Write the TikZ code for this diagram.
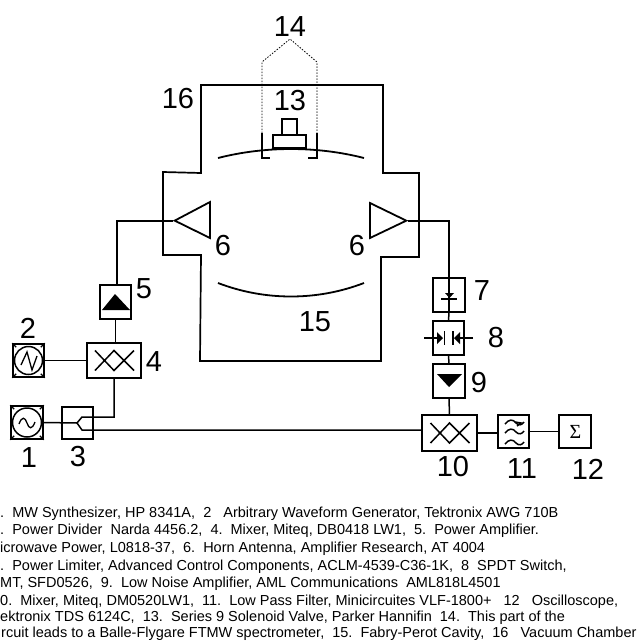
\documentclass[tikz,border=0pt]{standalone}
\usepackage{fontspec}
\setmainfont{Liberation Sans}
\newfontfamily\sigfont{Liberation Serif}
\usetikzlibrary{calc}
\newcommand{\mixsym}[1]{%
  \draw[sym] ($(#1.center)+(-19,10)$) -- ($(#1.center)+(0,-10)$) -- ($(#1.center)+(20,10)$)
        ($(#1.center)+(-19,-10)$) -- ($(#1.center)+(0,10)$) -- ($(#1.center)+(20,-10)$);}
\tikzset{
  wire/.style={line width=1.5pt,line join=miter},
  wall/.style={line width=1.7pt,line join=miter},
  sym/.style={line width=1.5pt},
  blockbox/.style={draw,line width=1.7pt,inner sep=0pt,minimum width=#1,minimum height=33pt},
  blockbox/.default=32pt,
  num/.style={font=\fontsize{29}{29}\selectfont,inner sep=0pt},
  captext/.style={font=\fontsize{14.5}{14.5}\selectfont,anchor=base west,inner sep=0pt},
  mirror/.style={line width=1.8pt},
  pathdot/.style={line width=0.8pt,dash pattern=on 1.5pt off 1.5pt},
}
\begin{document}
\begin{tikzpicture}[x=1pt,y=-1pt]
\useasboundingbox[fill=white] (0,0) rectangle (641,641);
% chamber
\draw[wall] (201,173) -- (201,85) -- (383,85) -- (383,173) -- (419,173) -- (419,257) -- (381,257) -- (381,361) -- (200,361) -- (201,255) -- (163,255) -- (163,172) -- cycle;
% mirrors
\draw[mirror] (218,158) .. controls (265,146) and (317,146) .. (364,158);
\draw[mirror] (218,283) .. controls (265,301) and (317,301) .. (364,283);
% valve
\draw[line width=1.5pt] (273,148) rectangle (306,135) (282,135) rectangle (297,119);
\draw[line width=1.5pt] (262,133) -- (262,158) -- (270,158) (317,133) -- (317,158) -- (308,158);
\draw[pathdot] (262,133) -- (262,62) -- (290,39) -- (317,62) -- (317,133);
% horns
\node[inner sep=0pt] (hornL) at (174,221) {};
\node[inner sep=0pt] (hornR) at (407,221) {};
\draw[line width=1.8pt,line join=miter] (hornL) -- (210,202) -- (210,238) -- cycle;
\draw[line width=1.8pt,line join=miter] (hornR) -- (370,203) -- (370,238) -- cycle;
% blocks
\node[blockbox=32pt,minimum height=33pt] (s1) at (27,422.5) {};
\node[blockbox=31pt,minimum height=33pt] (s2) at (28.5,360.5) {};
\node[blockbox=31pt,minimum height=32pt] (b3) at (77.5,423) {};
\node[blockbox=54pt,minimum height=35pt] (b4) at (114,360.5) {};
\node[blockbox=31pt,minimum height=34pt] (b5) at (115.5,302) {};
\node[blockbox=32pt,minimum height=34pt] (b7) at (449,295) {};
\node[blockbox=31pt,minimum height=34pt] (b8) at (448.5,338) {};
\node[blockbox=32pt,minimum height=34pt] (b9) at (449,381) {};
\node[blockbox=55pt,minimum height=36pt] (b10) at (449.5,433) {};
\node[blockbox=31pt,minimum height=33pt] (b11) at (513.5,431.5) {};
\node[blockbox=32pt,minimum height=33pt] (b12) at (575,431.5) {};
% source 1
\draw[line width=1.5pt] (s1.center) circle (14.5);
\draw[line width=1.3pt] (19,424) .. controls (22,416) and (25,417) .. (27,423) .. controls (29,429) and (32,430) .. (35,422);
\draw[line width=1.1pt] (s1.north west) -- ++(4,4) (s1.north east) -- ++(-4,4) (s1.south west) -- ++(4,-4) (s1.south east) -- ++(-4,-4);
% source 2
\draw[line width=1.5pt] (s2.center) circle (14);
\draw[line width=1.3pt] (21,365) -- (27,352) -- (32,370) -- (37,356);
\draw[line width=1.1pt] (s2.north west) -- ++(4,4) (s2.north east) -- ++(-4,4) (s2.south west) -- ++(4,-4) (s2.south east) -- ++(-4,-4);
% block 3 fork
\coordinate (fork) at (77,423);
\coordinate (forkU) at (82,417);
\coordinate (forkD) at (82,430);
\draw[wire] (s1.east) -- (fork) -- (forkU) -| (b4.south);
\draw[wire] (fork) -- (forkD) -- (b10.west |- forkD);
% mixers
\mixsym{b4}
\mixsym{b10}
% amp 5
\fill (115,294) -- (130,310) -- (102,310) -- cycle;
\draw[wire] (b5.south) -- (b5.south |- b4.north);
\draw[wire] (hornL) -- (117,221) -- (117,285);
\draw[wire] (s2.east) -- (b4.west);
% right chain
\draw[wire] (hornR) -- (449,221) -- (b7.north);
\draw[wire] (b7.north) -- (b7.south);
\draw[wire] (b7.south) -- (b8.north);
\draw[wire] (b8.south) -- (b9.north);
\draw[wire] (b9.south) -- (b10.north);
\fill (445,293) -- (454,293) -- (449.5,298) -- cycle;
\draw[sym] (441,299) -- (457,299);
% switch 8
\draw[sym] (424,338) -- (441,338) (473,338) -- (456,338);
\fill (437,332) -- (443,338) -- (437,344) -- cycle;
\fill (460,332) -- (454,338) -- (460,344) -- cycle;
\draw[line width=1.6pt] (444.5,331) -- (444.5,345) (453,331) -- (453,345);
% amp 9
\fill (437,374) -- (462,374) -- (449,387) -- cycle;
% filter 11
\draw[sym] (505,424) .. controls (509,419) and (513,419) .. (516,423) .. controls (519,426) and (522,425) .. (524,422);
\draw[sym] (505,433) .. controls (509,428) and (513,428) .. (516,432) .. controls (519,435) and (522,434) .. (524,431);
\draw[sym] (505,444) .. controls (509,439) and (513,439) .. (516,443) .. controls (519,446) and (522,445) .. (524,442);
\draw[sym] (515,422) -- (521,423) -- (517,426);
\draw[wire] (b10.east |- 0,433) -- (b11.west |- 0,433);
\draw[wire] (b11.east) -- (b12.west);
\node[inner sep=0pt,font=\sigfont\fontsize{20}{20}\selectfont] (sigma) at (575.5,431.5) {Σ};
% numbers
\node[num] (n14) at (290,27) {14};
\node[num] (n16) at (178,99) {16};
\node[num] (n13) at (290,101) {13};
\node[num] (n6a) at (223,246) {6};
\node[num] (n6b) at (357,246) {6};
\node[num] (n15) at (315,322) {15};
\node[num] (n5) at (144,289) {5};
\node[num] (n2) at (28,328) {2};
\node[num] (n4) at (154,362) {4};
\node[num] (n1) at (29,458) {1};
\node[num] (n3) at (78,457) {3};
\node[num] (n7) at (482,291) {7};
\node[num] (n8) at (496,338) {8};
\node[num] (n9) at (479,383) {9};
\node[num] (n10) at (453,467) {10};
\node[num] (n11) at (522,469) {11};
\node[num] (n12) at (588,469) {12};
% caption
\node[captext] (c1) at (0,517) {.\ \ MW Synthesizer, HP 8341A,\ \ 2\ \ \ Arbitrary Waveform Generator, Tektronix AWG 710B};
\node[captext] (c2) at (0,534.5) {.\ \ Power Divider\ \ Narda 4456.2,\ \ 4.\ \ Mixer, Miteq, DB0418 LW1,\ \ 5.\ \ Power Amplifier.};
\node[captext] (c3) at (0,552) {icrowave Power, L0818-37,\ \ 6.\ \ Horn Antenna, Amplifier Research, AT 4004};
\node[captext] (c4) at (0,570) {.\ \ Power Limiter, Advanced Control Components, ACLM-4539-C36-1K,\ \ 8\ \ SPDT Switch,};
\node[captext] (c5) at (0,587.5) {MT, SFD0526,\ \ 9.\ \ Low Noise Amplifier, AML Communications\ \ AML818L4501};
\node[captext] (c6) at (0,605) {0.\ \ Mixer, Miteq, DM0520LW1,\ \ 11.\ \ Low Pass Filter, Minicircuites VLF-1800+\ \ \ 12\ \ \ Oscilloscope,};
\node[captext] (c7) at (0,621.5) {ektronix TDS 6124C,\ \ 13.\ \ Series 9 Solenoid Valve, Parker Hannifin\ \ 14.\ \ This part of the};
\node[captext] (c8) at (1,637.5) {rcuit leads to a Balle-Flygare FTMW spectrometer,\ \ 15.\ \ Fabry-Perot Cavity,\ \ 16\ \ \ Vacuum Chamber};
\end{tikzpicture}
\end{document}
